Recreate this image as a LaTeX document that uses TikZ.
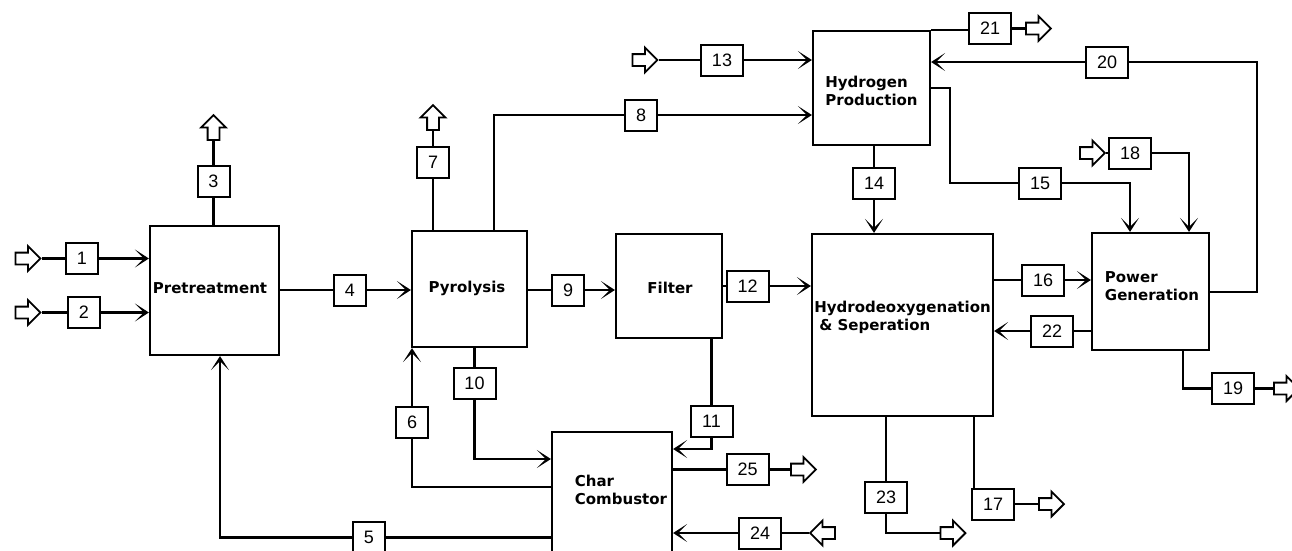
\documentclass[tikz,border=0pt]{standalone}
\usepackage{fontspec}
\newfontfamily\lblfont{DejaVu Sans}
\newfontfamily\numfont{Liberation Sans}
\usetikzlibrary{arrows.meta,shapes.arrows}
\begin{document}
\begin{tikzpicture}[x=1pt,y=-1pt,
  unitbox/.style={draw,line width=2.2pt,inner sep=0pt},
  unittext/.style={font=\lblfont\bfseries\fontsize{15}{18}\selectfont,align=left,inner sep=0pt},
  numbox/.style={draw,line width=2pt,minimum height=31pt,minimum width=32pt,inner sep=0pt,font=\numfont\fontsize{18}{20}\selectfont},
  numwide/.style={numbox,minimum width=42pt},
  hollow/.style={single arrow,draw,line width=1.8pt,minimum height=25pt,inner xsep=0pt,inner ysep=5pt,single arrow head extend=6.5pt},
  flow/.style={line width=2.2pt},
  arr/.style={flow,-{Stealth[length=14pt,width=18pt,inset=9pt]}},
]
\useasboundingbox (0,0) rectangle (1292,550);
\fill[white] (0,0) rectangle (1292,550);
\clip (0,0) rectangle (1292,550);

% unit boxes
\node[unitbox,minimum width=129pt,minimum height=129pt] (pre) at (214.5,290.5) {};
\node[unittext] (tpre) at (210,288) {Pretreatment};
\node[unitbox,minimum width=115pt,minimum height=116pt] (pyr) at (469.5,289) {};
\node[unittext] (tpyr) at (467,288) {Pyrolysis};
\node[unitbox,minimum width=106pt,minimum height=104pt] (fil) at (669,286) {};
\node[unittext] (tfil) at (670,288) {Filter};
\node[unitbox,minimum width=117pt,minimum height=114pt] (hyd) at (871.5,88) {};
\node[unittext] (thyd) at (871.5,91) {Hydrogen\\Production};
\node[unitbox,minimum width=181pt,minimum height=182pt] (hdo) at (902.5,325) {};
\node[unittext] (thdo) at (902.5,317) {Hydrodeoxygenation\\\hspace*{5pt}\& Seperation};
\node[unitbox,minimum width=117pt,minimum height=117pt] (pg) at (1150.5,291.5) {};
\node[unittext] (tpg) at (1152,286) {Power\\Generation};
\node[unitbox,minimum width=120pt,minimum height=138pt] (char) at (612,501) {};
\node[unittext] (tchar) at (621,490) {Char\\Combustor};

% stream number boxes
\node[numbox] (n1) at (82,258.5) {1};
\node[numbox] (n2) at (84,312.5) {2};
\node[numbox] (n3) at (213.5,181) {3};
\node[numbox] (n4) at (350,290) {4};
\node[numbox] (n5) at (369,537.5) {5};
\node[numbox] (n6) at (412,422.5) {6};
\node[numbox] (n7) at (433,162) {7};
\node[numbox] (n8) at (641,115) {8};
\node[numbox] (n9) at (568,290) {9};
\node[numwide] (n10) at (474.5,383.5) {10};
\node[numwide] (n11) at (711.5,421.5) {11};
\node[numwide] (n12) at (747.5,286) {12};
\node[numwide] (n13) at (722,60) {13};
\node[numwide] (n14) at (874,183) {14};
\node[numwide] (n15) at (1040,183) {15};
\node[numwide] (n16) at (1043,280) {16};
\node[numwide] (n17) at (993,504) {17};
\node[numwide] (n18) at (1130,153) {18};
\node[numwide] (n19) at (1233,388.5) {19};
\node[numwide] (n20) at (1107,62) {20};
\node[numwide] (n21) at (990,28.5) {21};
\node[numwide] (n22) at (1052,331) {22};
\node[numwide] (n23) at (886,497.5) {23};
\node[numwide] (n24) at (760,533) {24};
\node[numwide] (n25) at (747.5,469.5) {25};

% hollow in/out arrows
\node[hollow] (in1) at (25,258.5) {};
\node[hollow] (in2) at (25,312.5) {};
\node[hollow,rotate=90] (out3) at (213.5,130.5) {};
\node[hollow,rotate=90] (out7) at (433,120.5) {};
\node[hollow] (in13) at (642,60) {};
\node[hollow] (out21) at (1035.5,28.5) {};
\node[hollow] (in18) at (1089.5,153) {};
\node[hollow] (out19) at (1283.5,388.5) {};
\node[hollow] (out17) at (1048.5,504) {};
\node[hollow] (out23) at (950,533) {};
\node[hollow,rotate=180] (in24) at (825.5,533) {};
\node[hollow] (out25) at (800.5,469.5) {};

% bend points
\coordinate (k5) at (220,537.5);
\coordinate (k6) at (412,487);
\coordinate (k8) at (494,115);
\coordinate (k10) at (474.5,459);
\coordinate (k11) at (711.5,449);
\coordinate (k15a) at (950,88);
\coordinate (k15c) at (1130,183);
\coordinate (k17) at (974,460);
\coordinate (k18) at (1189,153);
\coordinate (k19) at (1183,388.5);
\coordinate (k20) at (1257,292);

% streams
\draw[flow] (in1.tip) -- (n1.west);
\draw[arr] (n1.east) -- (pre.west |- n1);
\draw[flow] (in2.tip) -- (n2.west);
\draw[arr] (n2.east) -- (pre.west |- n2);
\draw[flow] (pre.north -| n3) -- (n3.south);
\draw[flow] (n3.north) -- (out3.tail);
\draw[flow] (pre.east |- n4) -- (n4.west);
\draw[arr] (n4.east) -- (pyr.west |- n4);
\draw[flow] (char.west |- n5) -- (n5.east);
\draw[arr] (n5.west) -| (pre.south -| k5);
\draw[flow] (char.west |- k6) -- (k6) -- (n6.south);
\draw[arr] (n6.north) -- (pyr.south -| n6);
\draw[flow] (pyr.north -| n7) -- (n7.south);
\draw[flow] (n7.north) -- (out7.tail);
\draw[flow] (pyr.north -| k8) -- (k8) -- (n8.west);
\draw[arr] (n8.east) -- (hyd.west |- n8);
\draw[flow] (pyr.east |- n9) -- (n9.west);
\draw[arr] (n9.east) -- (fil.west |- n9);
\draw[flow] (pyr.south -| n10) -- (n10.north);
\draw[arr] (n10.south) |- (char.west |- k10);
\draw[flow] (fil.south -| n11) -- (n11.north);
\draw[arr] (n11.south) |- (char.east |- k11);
\draw[flow] (fil.east |- n12) -- (n12.west);
\draw[arr] (n12.east) -- (hdo.west |- n12);
\draw[flow] (in13.tip) -- (n13.west);
\draw[arr] (n13.east) -- (hyd.west |- n13);
\draw[flow] (hyd.south -| n14) -- (n14.north);
\draw[arr] (n14.south) -- (hdo.north -| n14);
\draw[flow] (hyd.east |- k15a) -- (k15a) |- (n15.west);
\draw[arr] (n15.east) -| (pg.north -| k15c);
\draw[flow] (hdo.east |- n16) -- (n16.west);
\draw[arr] (n16.east) -- (pg.west |- n16);
\draw[flow] (hdo.south -| k17) -- (n17.north -| k17);
\draw[flow] (n17.east) -- (out17.tail);
\draw[flow] (in18.tip) -- (n18.west);
\draw[arr] (n18.east) -| (pg.north -| k18);
\draw[flow] (pg.south -| k19) |- (n19.west);
\draw[flow] (n19.east) -- (out19.tail);
\draw[flow] (pg.east |- k20) -- (k20) |- (n20.east);
\draw[arr] (n20.west) -- (hyd.east |- n20);
\draw[flow] (hyd.north east) -- (hyd.north east -| n21.west);
\draw[flow] (n21.east) -- (out21.tail);
\draw[flow] (pg.west |- n22) -- (n22.east);
\draw[arr] (n22.west) -- (hdo.east |- n22);
\draw[flow] (hdo.south -| n23) -- (n23.north);
\draw[flow] (n23.south) |- (out23.tail);
\draw[flow] (in24.tip) -- (n24.east);
\draw[arr] (n24.west) -- (char.east |- n24);
\draw[flow] (char.east |- n25) -- (n25.west);
\draw[flow] (n25.east) -- (out25.tail);
\end{tikzpicture}
\end{document}
